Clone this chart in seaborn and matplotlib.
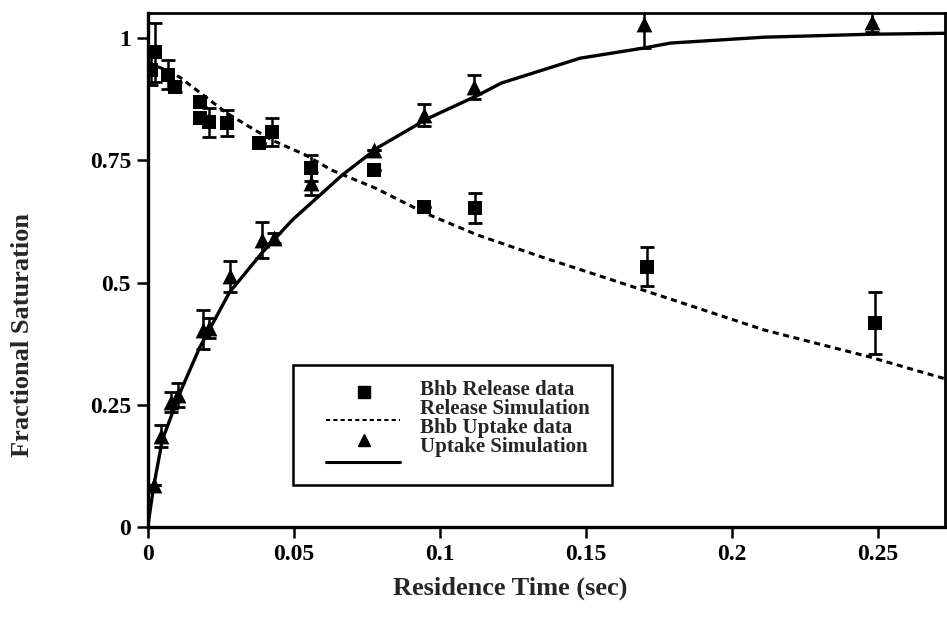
import numpy as np
import pandas as pd
import matplotlib
matplotlib.use("Agg")
import matplotlib.pyplot as plt
import seaborn as sns
from matplotlib.lines import Line2D
from matplotlib.patches import Rectangle

# ---- data ----
rel_x = [0.001, 0.0024, 0.0068, 0.0092, 0.018, 0.018, 0.021, 0.027, 0.038, 0.0427,
         0.056, 0.0775, 0.0945, 0.112, 0.171, 0.249]
rel_y = [0.935, 0.971, 0.925, 0.900, 0.869, 0.836, 0.828, 0.826, 0.785, 0.808,
         0.734, 0.730, 0.654, 0.652, 0.532, 0.417]
rel_err = [0.03, 0.06, 0.03, 0.01, 0.01, 0.0, 0.03, 0.027, 0.0, 0.028,
           0.026, 0.0, 0.0, 0.031, 0.04, 0.064]

up_x = [0.002, 0.0044, 0.008, 0.0102, 0.0188, 0.021, 0.028, 0.039, 0.0433,
        0.056, 0.0775, 0.0945, 0.1116, 0.170, 0.248]
up_y = [0.086, 0.186, 0.256, 0.270, 0.403, 0.407, 0.513, 0.587, 0.591,
        0.703, 0.771, 0.843, 0.900, 1.03, 1.033]
up_err = [0.0, 0.023, 0.02, 0.024, 0.04, 0.02, 0.032, 0.037, 0.01,
          0.024, 0.0, 0.022, 0.024, 0.05, 0.021]

sim_up_x = [0, 0.002, 0.005, 0.011, 0.0177, 0.028, 0.039, 0.0495, 0.0666, 0.079,
            0.096, 0.113, 0.121, 0.148, 0.170, 0.179, 0.211, 0.247, 0.273]
sim_up_y = [0, 0.082, 0.178, 0.274, 0.366, 0.48, 0.56, 0.628, 0.72, 0.777,
            0.836, 0.883, 0.908, 0.959, 0.98, 0.99, 1.002, 1.008, 1.01]

sim_rel_x = [0, 0.005, 0.011, 0.0167, 0.027, 0.035, 0.0427, 0.054, 0.063, 0.078,
             0.095, 0.113, 0.136, 0.154, 0.177, 0.211, 0.247, 0.273]
sim_rel_y = [0.95, 0.938, 0.92, 0.894, 0.847, 0.818, 0.791, 0.761, 0.730, 0.693,
             0.642, 0.597, 0.55, 0.515, 0.47, 0.403, 0.348, 0.303]

x_ticks = [0, 0.05, 0.1, 0.15, 0.2, 0.25]
x_tick_labels = ["0", "0.05", "0.1", "0.15", "0.2", "0.25"]
y_ticks = [0, 0.25, 0.5, 0.75, 1]
y_tick_labels = ["0", "0.25", "0.5", "0.75", "1"]

legend_labels = ["Bhb Release data", "Release Simulation", "Bhb Uptake data", "Uptake Simulation"]

# ---- style ----
sns.set_style("ticks")
plt.rcParams['font.family'] = ['Liberation Serif', 'DejaVu Serif']
plt.rcParams['font.weight'] = 'bold'

fig = plt.figure(figsize=(9.47, 6.31), dpi=100)
ax = fig.add_axes([0.156, 0.165, 0.842, 0.814])

rel_df = pd.DataFrame({"x": rel_x, "y": rel_y, "e": rel_err})
up_df = pd.DataFrame({"x": up_x, "y": up_y, "e": up_err})
sim_up = pd.DataFrame({"x": sim_up_x, "y": sim_up_y})
sim_rel = pd.DataFrame({"x": sim_rel_x, "y": sim_rel_y})

# simulations
sns.lineplot(data=sim_rel, x="x", y="y", ax=ax, color="black", lw=2.2,
             linestyle=(0, (2.0, 1.5)), sort=False)
sns.lineplot(data=sim_up, x="x", y="y", ax=ax, color="black", lw=2.4, sort=False)

# error bars
ax.errorbar(rel_df["x"], rel_df["y"], yerr=rel_df["e"], fmt="none", ecolor="black",
            elinewidth=1.8, capsize=5, capthick=2)
ax.errorbar(up_df["x"], up_df["y"], yerr=up_df["e"], fmt="none", ecolor="black",
            elinewidth=1.8, capsize=5, capthick=2)

# data markers
sns.scatterplot(data=rel_df, x="x", y="y", ax=ax, marker="s", s=110, color="black",
                edgecolor="black", linewidth=0, zorder=5)
sns.scatterplot(data=up_df, x="x", y="y", ax=ax, marker="^", s=130, color="black",
                edgecolor="black", linewidth=0, zorder=5)

ax.set_xlim(0, 0.273)
ax.set_ylim(0, 1.051)
ax.set_xticks(x_ticks)
ax.set_xticklabels(x_tick_labels)
ax.set_yticks(y_ticks)
ax.set_yticklabels(y_tick_labels)
ax.tick_params(axis="both", direction="out", length=8, width=1.8, labelsize=17,
               colors="black", pad=4)
for lab in ax.get_xticklabels() + ax.get_yticklabels():
    lab.set_fontweight("bold")

for side in ["left", "bottom", "top", "right"]:
    ax.spines[side].set_visible(True)
    ax.spines[side].set_color("black")
ax.spines["left"].set_linewidth(2.4)
ax.spines["bottom"].set_linewidth(2.4)
ax.spines["top"].set_linewidth(2.0)
ax.spines["right"].set_linewidth(2.0)

ax.set_xlabel("Residence Time (sec)", fontsize=19, fontweight="bold")
ax.set_ylabel("Fractional Saturation", fontsize=19, fontweight="bold")
ax.xaxis.set_label_coords(0.454, -0.096)
ax.yaxis.set_label_coords(-0.143, 0.374)

# legend box (handles and texts placed as in the reference, which are not row-aligned)
ax.add_patch(Rectangle((0.182, 0.082), 0.400, 0.233, transform=ax.transAxes,
                       fill=True, facecolor="white", edgecolor="black", lw=1.8, zorder=6))
tr = ax.transAxes
ax.add_line(Line2D([0.271], [0.262], marker="s", color="black", markersize=9,
                   linestyle="none", transform=tr, zorder=7))
ax.add_line(Line2D([0.2233, 0.3162], [0.208, 0.208], color="black", lw=1.5,
                   linestyle=(0, (2, 1.5)), transform=tr, zorder=7))
ax.add_line(Line2D([0.271], [0.169], marker="^", color="black", markersize=9,
                   linestyle="none", transform=tr, zorder=7))
ax.add_line(Line2D([0.2233, 0.3162], [0.1265, 0.1265], color="black", lw=2.2,
                   transform=tr, zorder=7))
ax.text(0.341, 0.285, "\n".join(legend_labels), transform=tr, ha="left", va="top",
        fontsize=15, fontweight="bold", family="Liberation Serif", linespacing=0.93,
        zorder=8)

fig.savefig("out.png", dpi=100)
